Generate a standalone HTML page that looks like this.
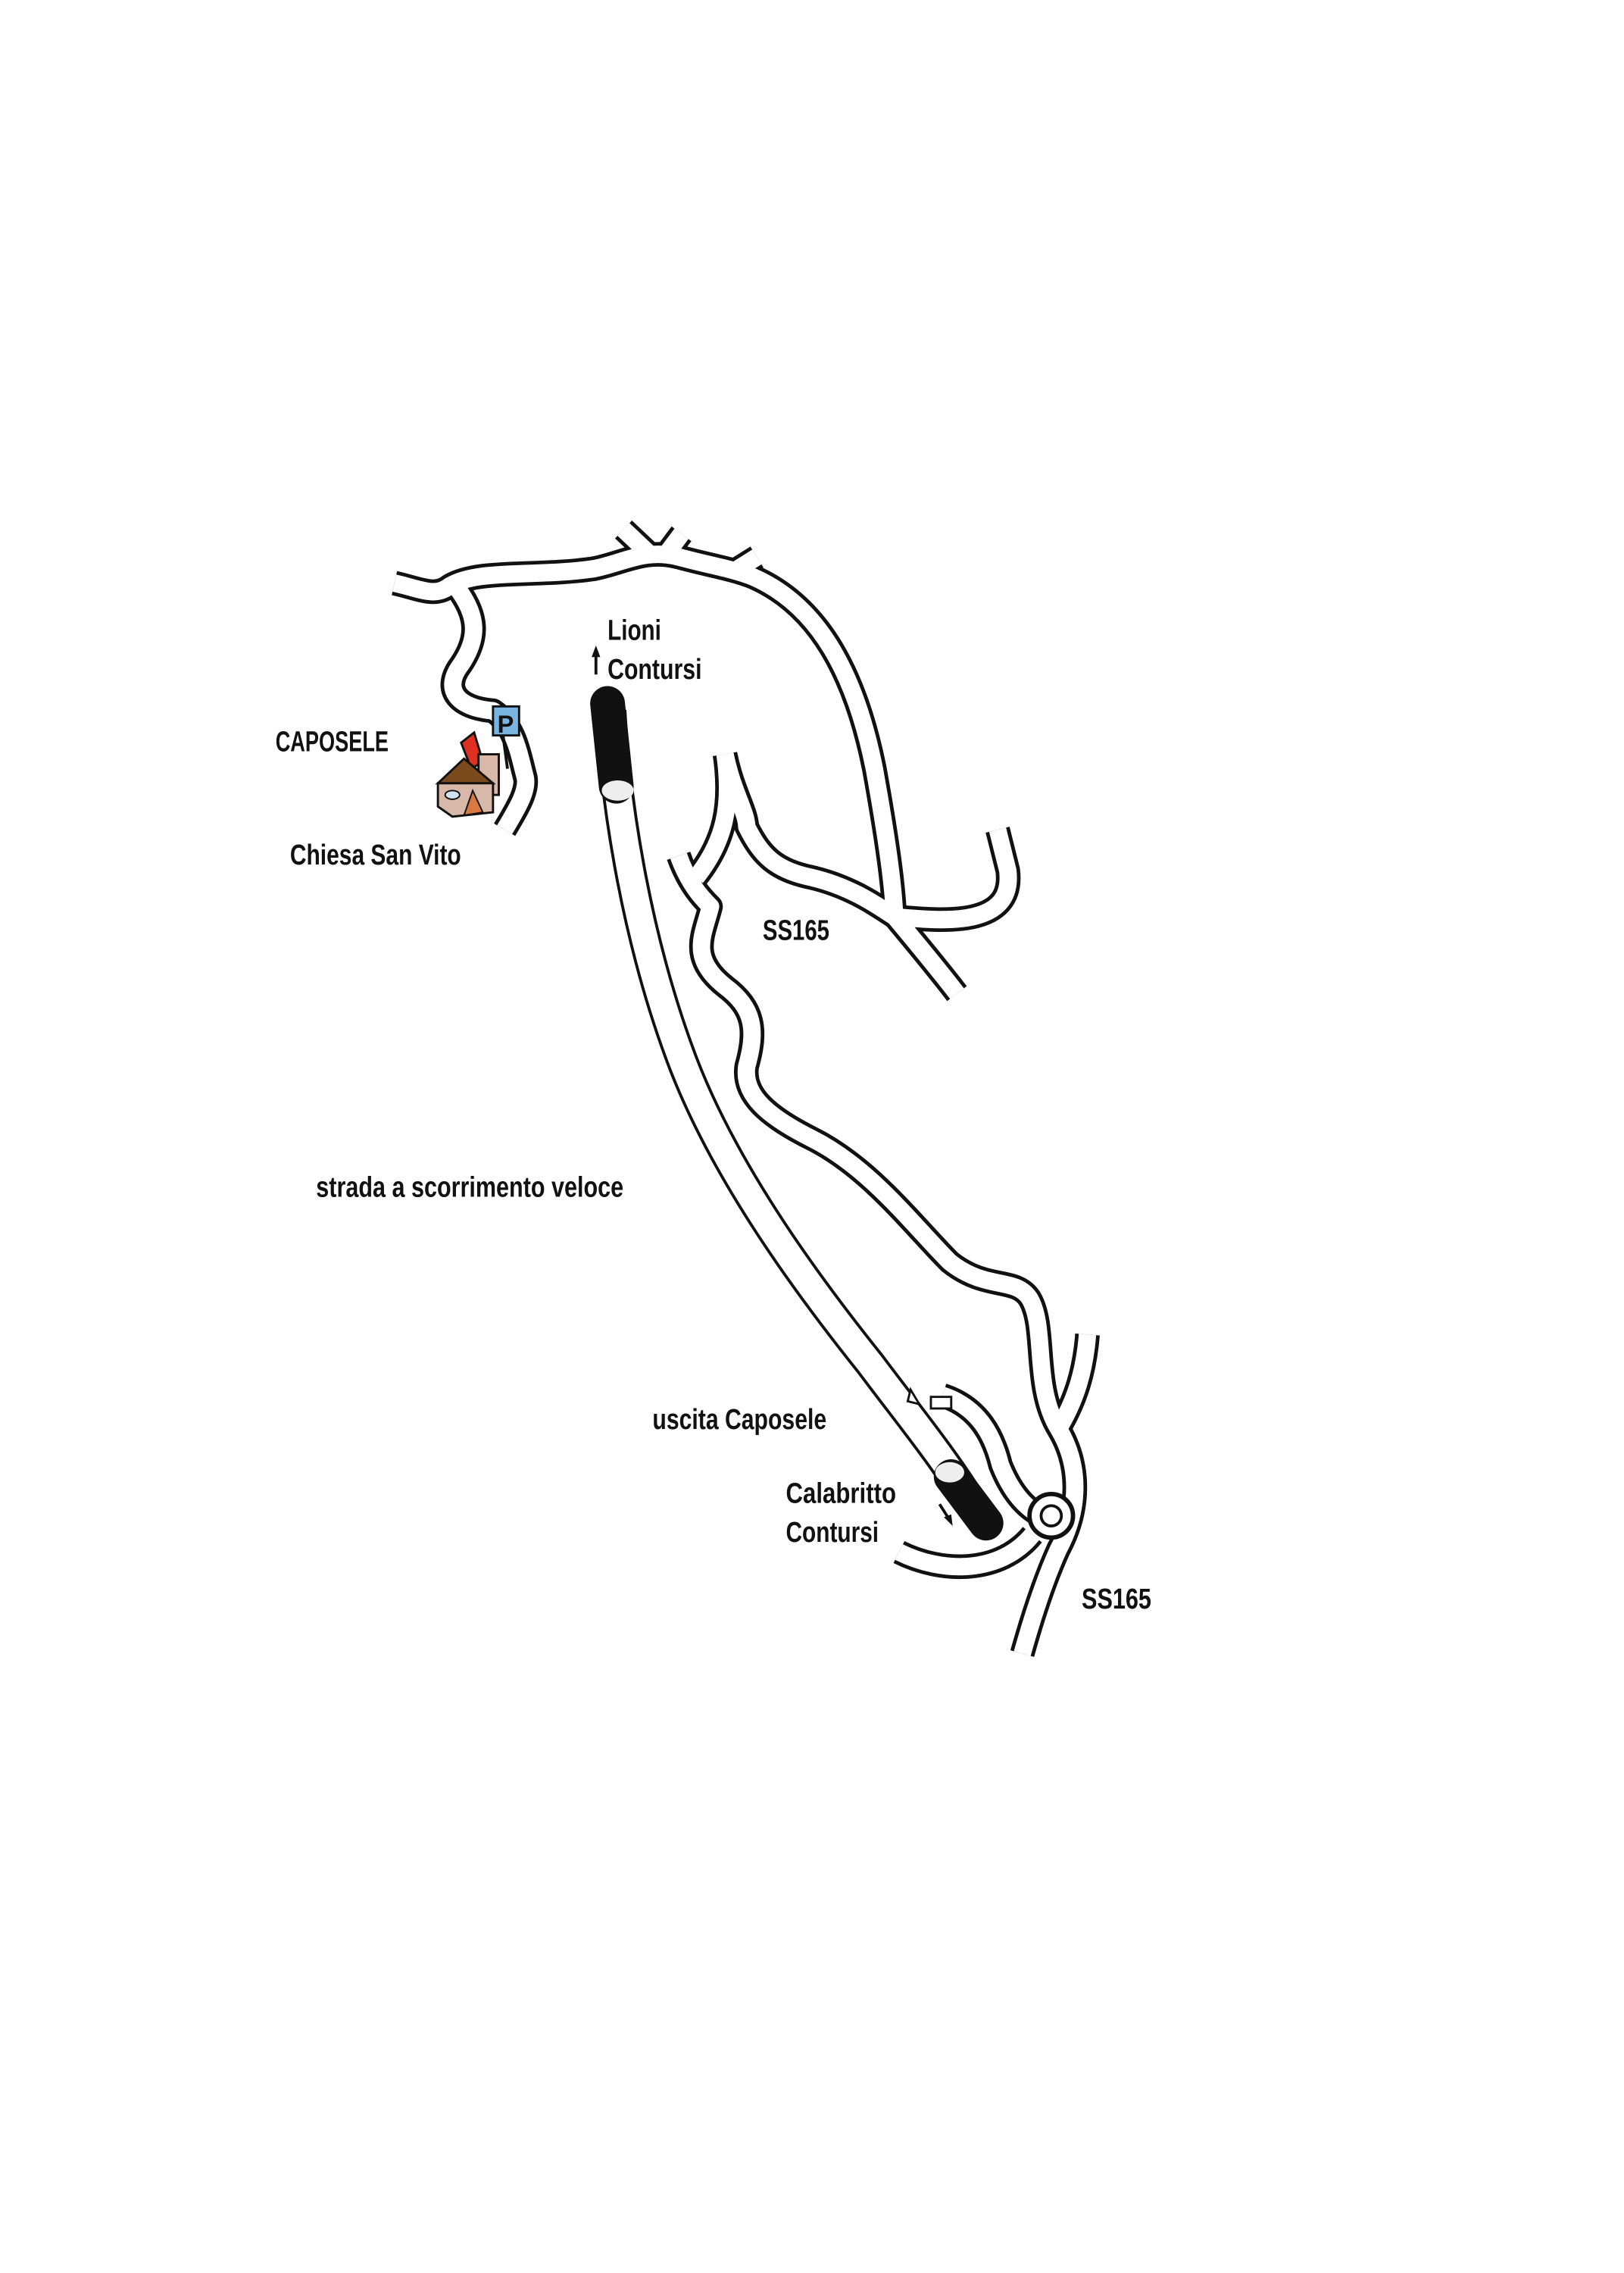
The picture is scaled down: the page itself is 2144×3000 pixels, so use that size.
<!DOCTYPE html>
<html><head><meta charset="utf-8"><style>
html,body{margin:0;padding:0;background:#fff;}
svg{display:block;}
text{font-family:"Liberation Sans Narrow","Liberation Sans",sans-serif;font-weight:bold;font-size:20px;fill:#111;}
</style></head><body>
<svg width="2144" height="3000" viewBox="0 0 1120 1567" preserveAspectRatio="none" xmlns="http://www.w3.org/2000/svg">
<g fill="none" stroke-linecap="butt" stroke-linejoin="round">
<g stroke="#111" stroke-width="17">
<path d="M272,402 C290,406 300,412 310,404 C330,392 370,398 410,392 C430,388 445,378 468,384 C490,390 505,392 520,398 C565,418 590,465 603,530 C612,580 616,610 617,632"/>
<path d="M430,365 L448,382 M470,368 L458,384 M522,384 L506,394"/>
<path d="M315,405 C330,425 330,440 318,458 C305,475 315,488 340,490 C355,500 358,520 362,535 C365,545 355,560 348,572"/>
<path d="M500,520 C505,545 515,560 515,570 C525,590 535,600 560,605 C590,612 610,628 617,632 C650,635 700,640 695,600 L688,572"/>
<path d="M617,632 C632,650 647,668 660,685"/>
<path d="M500,520 C505,555 500,580 480,605 M468,590 C475,610 485,620 490,625 C485,645 475,660 500,680 C520,695 522,710 515,735 C512,755 530,770 560,785 C600,805 630,845 655,870 C680,890 700,880 710,895 C722,915 712,955 730,985 C745,1010 745,1040 730,1068 C720,1090 712,1115 705,1140"/>
<path d="M750,920 C748,945 742,965 730,985"/>
<path d="M650,962 C675,970 685,990 690,1010 C698,1030 708,1040 718,1045"/>
<path d="M620,1070 C650,1085 690,1085 712,1058"/>
</g>
<g stroke="#fff" stroke-width="12">
<path d="M272,402 C290,406 300,412 310,404 C330,392 370,398 410,392 C430,388 445,378 468,384 C490,390 505,392 520,398 C565,418 590,465 603,530 C612,580 616,610 617,632"/>
<path d="M430,365 L448,382 M470,368 L458,384 M522,384 L506,394"/>
<path d="M315,405 C330,425 330,440 318,458 C305,475 315,488 340,490 C355,500 358,520 362,535 C365,545 355,560 348,572"/>
<path d="M500,520 C505,545 515,560 515,570 C525,590 535,600 560,605 C590,612 610,628 617,632 C650,635 700,640 695,600 L688,572"/>
<path d="M617,632 C632,650 647,668 660,685"/>
<path d="M500,520 C505,555 500,580 480,605 M468,590 C475,610 485,620 490,625 C485,645 475,660 500,680 C520,695 522,710 515,735 C512,755 530,770 560,785 C600,805 630,845 655,870 C680,890 700,880 710,895 C722,915 712,955 730,985 C745,1010 745,1040 730,1068 C720,1090 712,1115 705,1140"/>
<path d="M750,920 C748,945 742,965 730,985"/>
<path d="M650,962 C675,970 685,990 690,1010 C698,1030 708,1040 718,1045"/>
<path d="M620,1070 C650,1085 690,1085 712,1058"/>
</g>
<path d="M421,490 C425,560 440,650 470,730 C500,810 560,890 600,940 C630,980 655,1010 675,1045" stroke="#111" stroke-width="22"/>
<path d="M421,490 C425,560 440,650 470,730 C500,810 560,890 600,940 C630,980 655,1010 675,1045" stroke="#fff" stroke-width="18"/>
<path d="M419,485 L425,542" stroke="#111" stroke-width="24" stroke-linecap="round"/>
<ellipse cx="426" cy="545" rx="11" ry="7" fill="#eee" stroke="none"/>
<path d="M656,1018 L680,1050" stroke="#111" stroke-width="24" stroke-linecap="round"/>
<ellipse cx="655" cy="1015" rx="10" ry="7" fill="#eee" stroke="none"/>
<circle cx="725" cy="1045" r="15" fill="#fff" stroke="#111" stroke-width="3"/>
<circle cx="725" cy="1045" r="7" fill="#fff" stroke="#111" stroke-width="2"/>
<path d="M411,465 L411,450" stroke="#111" stroke-width="2"/>
<path d="M648,1037 L655,1048" stroke="#111" stroke-width="2"/>
</g>
<polygon points="411,445 408,453 414,453" fill="#111"/>
<polygon points="657,1052 651,1046 656,1044" fill="#111"/>
<line x1="346" y1="500" x2="350" y2="530" stroke="#111" stroke-width="2"/>
<rect x="340" y="487" width="18" height="20" fill="#7ab4e0" stroke="#111" stroke-width="1.5"/>
<text x="343" y="505" style="font-size:17px">P</text>
<polygon points="318,512 327,505 333,525 325,530" fill="#e03020" stroke="#111" stroke-width="1.5"/>
<rect x="330" y="520" width="14" height="28" fill="#d8b8a8" stroke="#111" stroke-width="1.5"/>
<polygon points="302,540 320,523 340,540" fill="#7a4a1c" stroke="#111" stroke-width="1.5"/>
<polygon points="302,540 340,540 340,560 312,563 302,556" fill="#d8b8a8" stroke="#111" stroke-width="1.5"/>
<polygon points="320,562 326,545 333,560" fill="#d87a40" stroke="#111" stroke-width="1"/>
<ellipse cx="312" cy="548" rx="5" ry="3" fill="#cfe3f0" stroke="#111" stroke-width="1"/>
<polygon points="628,958 634,968 626,966" fill="#fff" stroke="#111" stroke-width="1.5"/>
<rect x="642" y="963" width="14" height="8" fill="#fff" stroke="#111" stroke-width="1.5"/>
<text x="190" y="518" textLength="78" lengthAdjust="spacingAndGlyphs">CAPOSELE</text>
<text x="200" y="596" textLength="118" lengthAdjust="spacingAndGlyphs">Chiesa San Vito</text>
<text x="419" y="441" textLength="37" lengthAdjust="spacingAndGlyphs">Lioni</text>
<text x="419" y="468" textLength="65" lengthAdjust="spacingAndGlyphs">Contursi</text>
<text x="526" y="648" textLength="46" lengthAdjust="spacingAndGlyphs">SS165</text>
<text x="218" y="825" textLength="212" lengthAdjust="spacingAndGlyphs">strada a scorrimento veloce</text>
<text x="450" y="985" textLength="120" lengthAdjust="spacingAndGlyphs">uscita Caposele</text>
<text x="542" y="1036" textLength="76" lengthAdjust="spacingAndGlyphs">Calabritto</text>
<text x="542" y="1063" textLength="64" lengthAdjust="spacingAndGlyphs">Contursi</text>
<text x="746" y="1109" textLength="48" lengthAdjust="spacingAndGlyphs">SS165</text>
</svg>
</body></html>
